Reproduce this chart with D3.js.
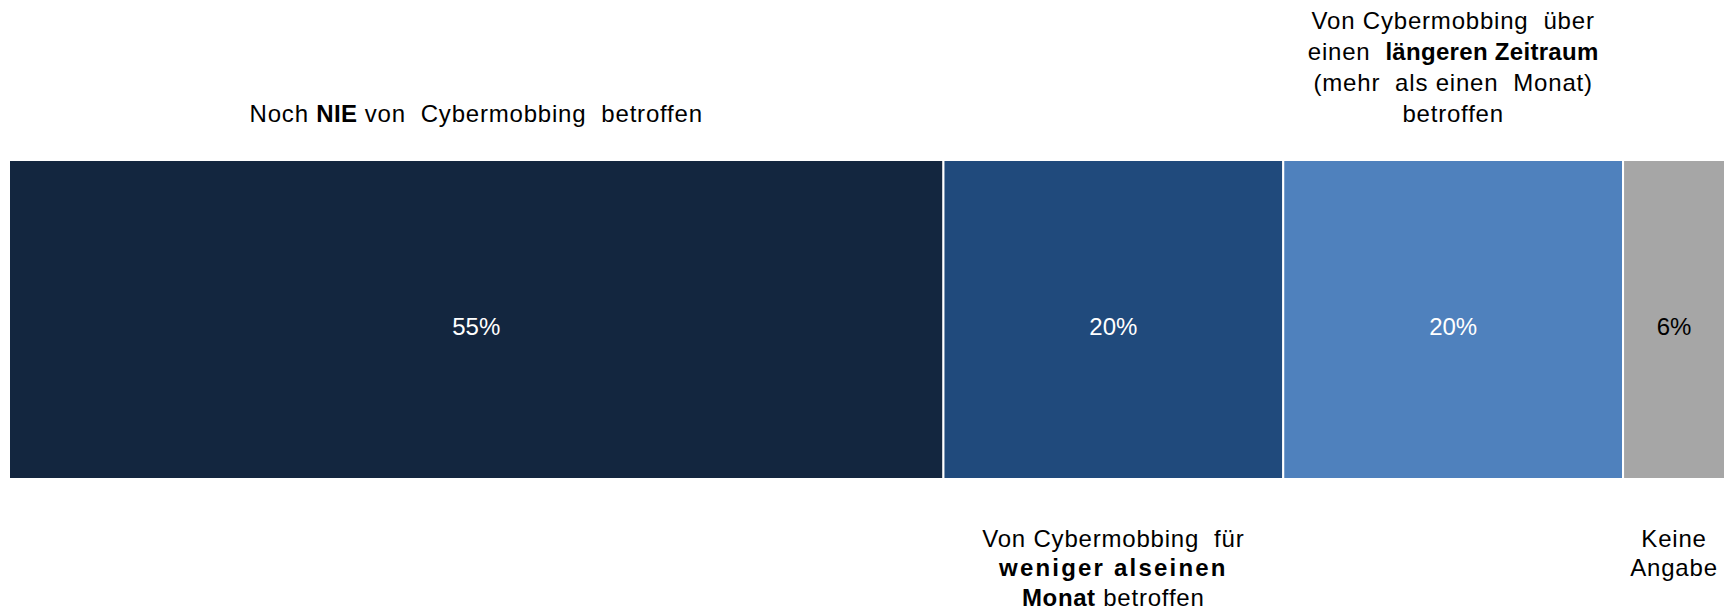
<!DOCTYPE html>
<html>
<head>
<meta charset="utf-8">
<script src="https://cdn.jsdelivr.net/npm/d3@7"></script>
<style>
  body { margin: 0; background: #fff; }
  svg { display: block; font-family: "Liberation Sans", Arial, sans-serif; }
</style>
</head>
<body>
<script>
// Data
const categories = ["nie", "kurz", "lang", "keine"];
const values = [55, 20, 20, 6];
const valueLabels = ["55%", "20%", "20%", "6%"];
// label lines: each line is a list of [text, bold]
const labelLines = [
  [[["Noch ", false], ["NIE", true], [" von  Cybermobbing  betroffen", false]]],
  [[["Von Cybermobbing  für", false]],
   [["weniger alseinen", true]],
   [["Monat", true], [" betroffen", false]]],
  [[["Von Cybermobbing  über", false]],
   [["einen  ", false], ["längeren Zeitraum", true]],
   [["(mehr  als einen  Monat)", false]],
   [["betroffen", false]]],
  [[["Keine", false]], [["Angabe", false]]]
];
const labelSide = ["top", "bottom", "top", "bottom"];

// Setup reference values
const w = 1728;
const h = 611;
const bar = { left: 9, right: 1725, top: 160, bottom: 479 };
const colors = ["#13263f", "#204a7c", "#4f81bd", "#a6a6a6"];
const textColors = ["#ffffff", "#ffffff", "#ffffff", "#000000"];
const fontSize = 24;
const spacing = { "weniger alseinen": 2.2, "längeren Zeitraum": 0.3, "NIE": 0.3 };

const svg = d3.select("body").append("svg")
  .attr("width", w)
  .attr("height", h);

const total = d3.sum(values);
const x = d3.scaleLinear().domain([0, total]).range([bar.left, bar.right]);

// cumulative starts
const segs = values.map((v, i) => {
  const start = d3.sum(values.slice(0, i));
  return { cat: categories[i], v, start, end: start + v, i };
});

// Bars
svg.selectAll("rect.seg")
  .data(segs)
  .enter()
  .append("rect")
  .attr("class", "seg")
  .attr("x", d => x(d.start))
  .attr("y", bar.top)
  .attr("width", d => x(d.end) - x(d.start))
  .attr("height", bar.bottom - bar.top)
  .attr("fill", d => colors[d.i])
  .attr("stroke", "#ffffff")
  .attr("stroke-width", 2);

// Value labels
svg.selectAll("text.val")
  .data(segs)
  .enter()
  .append("text")
  .attr("class", "val")
  .attr("x", d => (x(d.start) + x(d.end)) / 2)
  .attr("y", 335)
  .attr("text-anchor", "middle")
  .attr("font-size", fontSize + "px")
  .attr("fill", d => textColors[d.i])
  .text(d => valueLabels[d.i]);

// Category labels
segs.forEach(d => {
  const lines = labelLines[d.i];
  const cx = (x(d.start) + x(d.end)) / 2;
  let y0, lineH;
  if (labelSide[d.i] === "top") {
    lineH = 30.8;
    y0 = bar.top - 38.5 - (lines.length - 1) * lineH;
  } else {
    lineH = 29.3;
    y0 = bar.bottom + 68;
  }
  const t = svg.append("text")
    .attr("text-anchor", "middle")
    .attr("font-size", fontSize + "px")
    .attr("fill", "#000")
    .attr("xml:space", "preserve");
  lines.forEach((line, li) => {
    line.forEach((part, pi) => {
      const ls = spacing[part[0]] !== undefined ? spacing[part[0]] : (part[1] ? 0.6 : 0.8);
      const ts = t.append("tspan")
        .attr("font-weight", part[1] ? "bold" : "normal")
        .attr("letter-spacing", ls + "px")
        .style("white-space", "pre")
        .text(part[0]);
      if (pi === 0) ts.attr("x", cx).attr("y", y0 + li * lineH);
    });
  });
});
</script>
</body>
</html>
